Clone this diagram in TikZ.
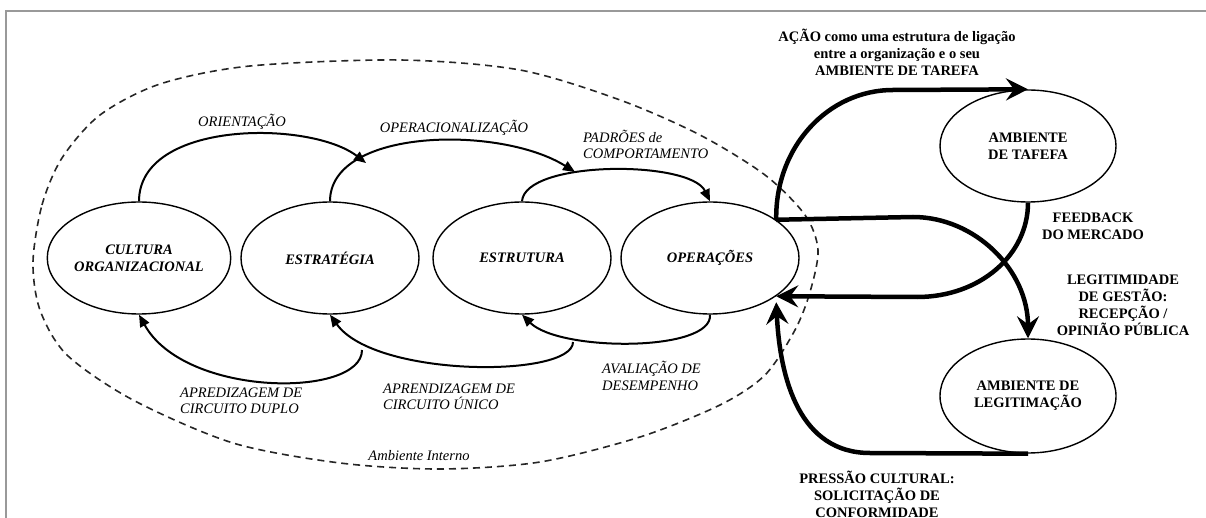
\documentclass[tikz,border=0pt]{standalone}
\usepackage{fontspec}
\setmainfont{Liberation Serif}
\usetikzlibrary{shapes.geometric,arrows.meta}
\begin{document}
\begin{tikzpicture}[x=1pt,y=-1pt,
  ell/.style={draw, ellipse, line width=1.4pt, minimum width=178pt, minimum height=112pt, inner sep=0pt, align=center},
  innertxt/.style={font=\fontsize{14.5}{17}\selectfont\bfseries\itshape},
  outertxt/.style={font=\fontsize{14.5}{17}\selectfont\bfseries},
  lab/.style={font=\fontsize{14.5}{16.5}\selectfont\itshape, align=left, inner sep=0pt},
  rlab/.style={font=\fontsize{14.5}{17}\selectfont\bfseries, align=center, inner sep=0pt},
  thinarrow/.style={line width=2pt, -{Triangle[length=12pt,width=10pt]}},
  thickarrow/.style={line width=4.5pt, -{Stealth[length=22pt,width=22pt,inset=8pt]}},
]
\useasboundingbox (0,0) rectangle (1206,518);
% frame
\draw[gray!80, line width=2pt] (6,518) -- (6,11) -- (1206,11);

% internal environment
\draw[line width=1.6pt, black!85, dash pattern=on 7pt off 5pt] plot[smooth cycle] coordinates {
 (33,262) (42,205) (62,158) (100,115) (160,84) (250,66) (400,60) (520,70)
 (620,100) (700,135) (765,175) (805,215) (818,250) (810,292) (795,330)
 (765,375) (720,405) (640,437) (540,462) (440,469) (340,463) (233,443)
 (133,400) (67,355) (40,310)};
\node[lab, anchor=center] (amb) at (419,456) {Ambiente Interno};

% ellipses
\node[ell, innertxt] (cult) at (139,258) {CULTURA\\ORGANIZACIONAL};
\node[ell, innertxt] (estr) at (330,258) {ESTRATÉGIA};
\node[ell, innertxt] (estru) at (522,258) {ESTRUTURA};
\node[ell, innertxt] (oper) at (710,258) {OPERAÇÕES};
\node[ell, outertxt, minimum width=176pt] (taref) at (1028,146) {AMBIENTE\\DE TAFEFA};
\node[ell, outertxt, minimum width=176pt, minimum height=114pt] (legit) at (1028,396) {AMBIENTE DE\\LEGITIMAÇÃO};

% junction points
\coordinate (j1) at (366,163);
\coordinate (j2) at (575,172);
\coordinate (j3) at (573,342);
\coordinate (j4) at (362,350);

% top arrows
\draw[thinarrow] (cult.north) .. controls (139,120) and (310,120) .. (j1);
\draw[thinarrow] (estr.north) .. controls (330,128) and (500,125) .. (j2);
\draw[thinarrow] (estru.north) .. controls (525,160) and (690,160) .. (oper.north);
% bottom arrows
\draw[thinarrow] (oper.south) .. controls (713,352) and (560,352) .. (estru.south);
\draw[thinarrow] (j3) .. controls (573,378) and (375,378) .. (estr.south);
\draw[thinarrow] (j4) .. controls (362,398) and (185,398) .. (cult.south);

% inner labels
\node[lab] (l1) at (242,122) {ORIENTAÇÃO};
\node[lab] (l2) at (454,128) {OPERACIONALIZAÇÃO};
\node[lab, anchor=west] (l3) at (583,144.5) {PADRÕES de\\COMPORTAMENTO};
\node[lab, anchor=west] (l4) at (602,376) {AVALIAÇÃO DE\\DESEMPENHO};
\node[lab, anchor=west] (l5) at (383,397) {APRENDIZAGEM DE\\CIRCUITO ÚNICO};
\node[lab, anchor=west] (l6) at (180,401) {APREDIZAGEM DE\\CIRCUITO DUPLO};

% thick arrows
\coordinate (pin) at ([yshift=-6pt]oper.-30);
\draw[thickarrow] (oper.30) .. controls (775,147) and (828,90) .. (893,90) -- (taref.north);
\draw[thickarrow] (oper.30) -- (913,217) .. controls (975,217) and (1028,270) .. (legit.north);
\draw[thickarrow] (taref.south) .. controls (1028,255) and (980,297) .. (917,297) -- (oper.-30);
\draw[thickarrow] (legit.south) -- (870,453) .. controls (800,453) and (780,380) .. (pin);

% outer labels
\node[rlab] (r1) at (897,52) {AÇÃO como uma estrutura de ligação\\entre a organização e o seu\\AMBIENTE DE TAREFA};
\node[rlab] (r2) at (1093,226) {FEEDBACK\\DO MERCADO};
\node[rlab] (r3) at (1123,305) {LEGITIMIDADE\\DE GESTÃO:\\RECEPÇÃO /\\OPINIÃO PÚBLICA};
\node[rlab] (r4) at (877,494) {PRESSÃO CULTURAL:\\SOLICITAÇÃO DE\\CONFORMIDADE};
\end{tikzpicture}
\end{document}
